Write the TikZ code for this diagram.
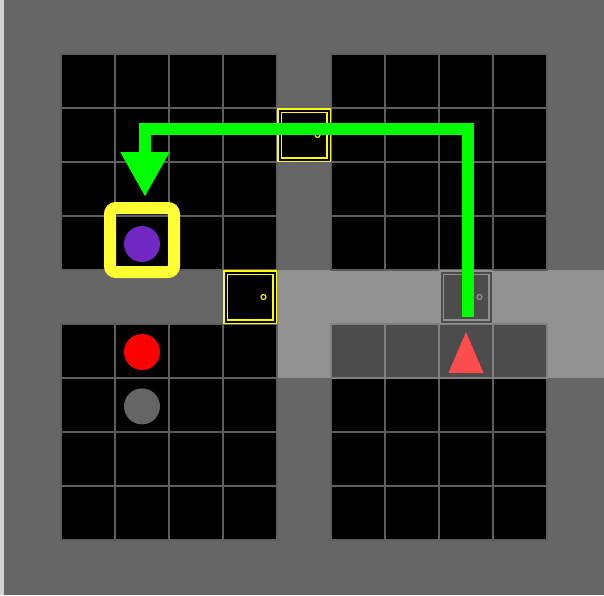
\documentclass[tikz,border=0pt]{standalone}
\usetikzlibrary{positioning,arrows.meta}
\definecolor{wallGray}{HTML}{666666}
\definecolor{edgeGray}{HTML}{D2D2D2}
\definecolor{litGray}{HTML}{929292}
\definecolor{litDark}{HTML}{4C4C4C}
\definecolor{lineGray}{HTML}{5E5E5E}
\definecolor{doorYellow}{HTML}{FFFF00}
\definecolor{goalYellow}{HTML}{FFFF33}
\definecolor{routeGreen}{HTML}{00FF00}
\definecolor{ballPurple}{HTML}{7027C3}
\definecolor{ballRed}{HTML}{FF0000}
\definecolor{ballGray}{HTML}{646464}
\definecolor{agentRed}{HTML}{FF4C4C}

\begin{document}
\begin{tikzpicture}[x=1pt, y=-1pt,
          tile/.style={fill=black, draw=lineGray, line width=1.2pt},
          littile/.style={fill=litDark, draw=litGray!75!litDark, line width=1.2pt},
          door/.style={fill=black, draw=doorYellow, double=black, double distance=2pt, line width=1.5pt, minimum size=49pt, inner sep=0pt},
          litdoor/.style={door, fill=litDark, draw=litGray, double=litDark},
          knob/.style={draw=doorYellow, line width=1.1pt},
          ball/.style={circle, minimum size=36pt, inner sep=0pt},
          goalbox/.style={draw=goalYellow, line width=12pt, rounded corners=6pt, minimum size=64pt, inner sep=0pt},
          route/.style={draw=routeGreen, line width=12pt, line join=miter, -{Triangle[width=46pt, length=45pt]}}]
        \useasboundingbox (0,0) rectangle (604,595);
        % walls and agent view
        \fill[wallGray] (0,0) rectangle (604,595);
        \fill[edgeGray] (0,0) rectangle (4,595);
        \fill[litGray] (277,270) rectangle (604,378);
        % four rooms
        \foreach \i in {1,2,3,4,6,7,8,9}
          \foreach \j in {1,2,3,4,6,7,8,9}
            \draw[tile] ({7+54*\i},{54*\j}) rectangle +(54,54);
        \foreach \i in {6,...,9}
          \draw[littile] ({7+54*\i},324) rectangle +(54,54);
        % doors
        \node[door] (d1) at (304,135) {};
        \node[door] (d2) at (250,297) {};
        \node[litdoor] (d3) at (466,297) {};
        \foreach \d in {d1,d2} {
          \draw[knob] ([xshift=13.5pt]\d.center) circle (2.5pt);
        }
        \draw[knob, draw=litGray] ([xshift=13.5pt]d3.center) circle (2.5pt);
        % objects
        \node[ball, fill=ballPurple] (pball) at (142,244) {};
        \node[ball, fill=ballRed] (rball) at (142,352) {};
        \node[ball, fill=ballGray, below=18pt of rball] (gball) {};
        \node[goalbox] (goal) at (142,240) {};
        \coordinate (agent) at (466,351);
        \fill[agentRed] ([yshift=19pt]agent) -- ([shift={(-17.5pt,-22pt)}]agent) -- ([shift={(17.5pt,-22pt)}]agent) -- cycle;
        % route to the goal
        \draw[route] ([xshift=2pt,yshift=-20pt]d3.center) |- ([yshift=6pt]d1.center) -| ([xshift=3pt,yshift=5pt]goal.north);
      \end{tikzpicture}
\end{document}
